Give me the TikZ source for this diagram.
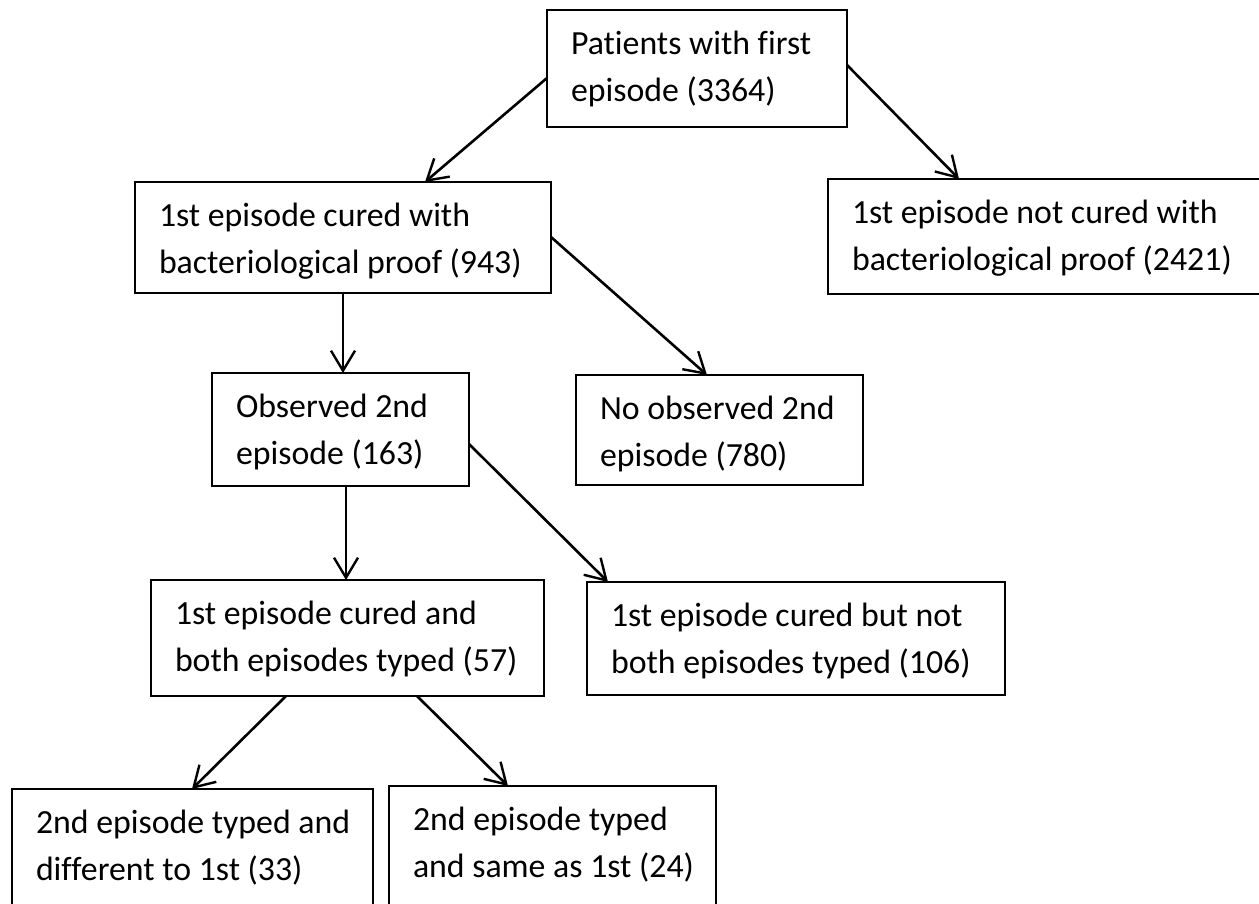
\documentclass[tikz,border=0pt]{standalone}
\usepackage{fontspec}
\setmainfont[Ligatures=NoCommon]{Carlito}
\usetikzlibrary{calc,arrows.meta}
\tikzset{
  box/.style={draw=black, line width=2.3pt, rectangle, inner sep=0pt, outer sep=0pt},
  txt/.style={anchor=base west, inner sep=0pt, outer sep=0pt, font=\fontsize{33.8}{40}\selectfont},
  conn/.style={line width=2.6pt, -{Straight Barb[length=20pt,width=24pt,line width=2.4pt]}}
}
\newcommand\mybox[7]{%
  \node[box, minimum width=#4pt, minimum height=#5pt, anchor=north west] (#1) at (#2,#3) {};
  \node[txt] (#1a) at ($(#1.north west)+(24,44)$) {#6};
  \node[txt] (#1b) at ($(#1.north west)+(24,91)$) {#7};
}
\begin{document}
\begin{tikzpicture}[x=1pt,y=-1pt]
\useasboundingbox (0,0) rectangle (1259,903);
\mybox{b1}{547}{10}{300}{117}{Patients with first}{episode (3364)}
\mybox{b2}{135}{182}{416}{111}{1st episode cured with}{bacteriological proof (943)}
\mybox{b3}{828}{179}{442}{115}{1st episode not cured with}{bacteriological proof (2421)}
\mybox{b4}{212}{373}{257}{113}{Observed 2nd}{episode (163)}
\mybox{b5}{576}{375}{287}{110}{No observed 2nd}{episode (780)}
\mybox{b6}{151}{580}{393}{116}{1st episode cured and}{both episodes typed (57)}
\mybox{b7}{587}{582}{418}{113}{1st episode cured but not}{both episodes typed (106)}
\mybox{b8}{12}{789}{361}{130}{2nd episode typed and}{different to 1st (33)}
\mybox{b9}{389}{786}{327}{133}{2nd episode typed}{and same as 1st (24)}
% connectors
\draw[conn] ($(b1.north west)+(0,68)$) -- ($(b2.north west)+(290,0)$);
\draw[conn] ($(b1.north east)+(0,55)$) -- ($(b3.north west)+(131,0)$);
\draw[conn] ($(b2.south west)+(208,0)$) -- ($(b4.north west)+(131,0)$);
\draw[conn] ($(b2.north east)+(0,55)$) -- ($(b5.north west)+(131,0)$);
\draw[conn] ($(b4.south west)+(134,0)$) -- ($(b6.north west)+(195,0)$);
\draw[conn] ($(b4.north east)+(0,71)$) -- ($(b7.north west)+(21,0)$);
\draw[conn] ($(b6.south west)+(135,0)$) -- ($(b8.north west)+(180,0)$);
\draw[conn] ($(b6.south west)+(266,0)$) -- ($(b9.north west)+(119,0)$);
\end{tikzpicture}
\end{document}
